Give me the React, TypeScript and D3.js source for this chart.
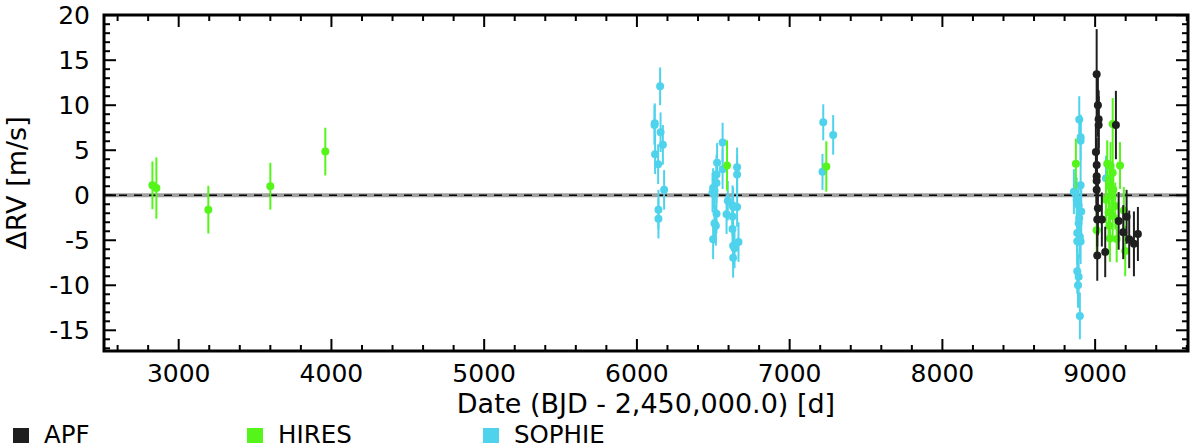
import { range, scaleLinear } from "d3";

// APF
const apfTime = [9010, 9018, 9023, 9023, 9005, 9010, 9010, 9010, 9010, 9018, 9014, 9044, 9014, 9066, 9136, 9154, 9206, 9184, 9223, 9254, 9280];
const apfRv = [13.45, 10.0, 8.45, 7.8, 4.8, 3.35, 2.1, 1.6, 0.6, -1.45, -2.7, -2.7, -6.7, -6.3, 7.8, -2.85, -2.4, -4.1, -4.9, -5.4, -4.3];
const apfErr = [5.0, 3.5, 3.2, 3.2, 3.0, 3.0, 3.0, 3.0, 3.0, 3.0, 3.0, 3.0, 2.8, 2.8, 3.8, 3.2, 3.0, 3.0, 3.2, 3.6, 3.0];

// HIRES
const hiresTime = [2828, 2854, 3194, 3600, 3960, 6590, 7240, 8874, 9010, 9115, 9079, 9101, 9115, 9093, 9119, 9106, 9163, 9071, 9088, 9115, 9132, 9093, 9097, 9141, 9197, 9188];
const hiresRv = [1.1, 0.8, -1.6, 1.0, 4.85, 3.3, 3.2, 3.5, -3.9, 7.9, 3.5, 3.3, 2.5, 1.0, 0.6, 0.0, 3.3, -0.5, -1.9, -2.3, -1.2, -3.4, -4.8, -4.85, -6.2, -1.7];
const hiresErr = [2.65, 3.4, 2.65, 2.6, 2.65, 2.8, 2.8, 2.8, 2.6, 2.9, 2.6, 2.6, 2.6, 2.6, 2.6, 2.6, 2.6, 2.6, 2.6, 2.6, 2.6, 2.6, 2.6, 2.6, 2.8, 2.6];

// SOPHIE
const sophieTime = [
  6152, 6117, 6115, 6155, 6170, 6119, 6139, 6178, 6141, 6141,
  6561, 6525, 6561, 6656, 6656, 6521, 6521, 6499, 6508, 6495, 6595, 6626, 6656, 6630, 6521, 6587, 6626, 6508, 6517, 6626, 6499, 6665, 6630, 6639, 6630,
  7220, 7285, 7215,
  8896, 8905, 8905, 8905, 8861, 8879, 8892, 8909, 8896, 8892, 8883, 8900, 8905, 8883, 8883, 8892, 8888, 8900, 9071,
];
const sophieRv = [
  12.1, 8.0, 7.8, 7.0, 5.6, 4.55, 3.45, 0.6, -1.6, -2.6,
  5.85, 3.6, 2.9, 3.1, 2.3, 2.3, 1.35, 0.8, 0.5, 0.3, -0.6, -1.1, -1.3, -1.3, -2.05, -2.1, -2.35, -3.15, -3.4, -3.75, -4.9, -5.2, -5.6, -5.9, -6.95,
  8.1, 6.7, 2.6,
  8.4, 6.45, 6.05, 1.1, 0.4, -0.5, -1.1, -1.8, -2.55, -3.1, -4.2, -4.6, -5.15, -5.1, -8.45, -9.05, -10.0, -13.4, 1.9,
];
const sophieErr = [
  2.1, 2.2, 2.2, 2.2, 2.2, 2.2, 2.2, 2.2, 2.2, 2.2,
  2.2, 2.2, 2.2, 2.2, 2.2, 2.2, 2.2, 2.2, 2.2, 2.2, 2.2, 2.2, 2.2, 2.2, 2.2, 2.2, 2.2, 2.2, 2.2, 2.2, 2.2, 2.2, 2.2, 2.2, 2.2,
  2.0, 2.2, 2.0,
  2.6, 2.5, 2.5, 2.5, 2.5, 2.5, 2.5, 2.5, 2.5, 2.5, 2.5, 2.5, 2.5, 2.5, 2.5, 2.5, 2.5, 2.6, 2.5,
];

const xTicks = [3000, 4000, 5000, 6000, 7000, 8000, 9000];
const yTicks = [-15, -10, -5, 0, 5, 10, 15, 20];

const series = [
  { name: "SOPHIE", color: "#4fd3ec", time: sophieTime, rv: sophieRv, err: sophieErr },
  { name: "HIRES", color: "#55f51c", time: hiresTime, rv: hiresRv, err: hiresErr },
  { name: "APF", color: "#1f1f1f", time: apfTime, rv: apfRv, err: apfErr },
];
const legendOrder = ["APF", "HIRES", "SOPHIE"];

export default function App() {
  const width = 1193;
  const height = 448;
  const frame = { left: 104, right: 1188, top: 15, bottom: 351 };
  const font = "'DejaVu Sans', sans-serif";

  const x = scaleLinear().domain([2511, 9608]).range([frame.left, frame.right]);
  const y = scaleLinear().domain([-17.3, 20.02]).range([frame.bottom, frame.top]);

  const xMinor = range(2600, 9601, 200).filter((t) => t % 1000 !== 0);
  const yMinor = range(-17, 21, 1).filter((t) => t % 5 !== 0);
  const legendX = [13, 247, 483];

  return (
    <div style={{ position: "fixed", left: 0, top: 0 }}>
      <svg width={width} height={height} viewBox={`0 0 ${width} ${height}`} style={{ display: "block", background: "#fff" }}>
        {/* zero line */}
        <line x1={frame.left} x2={frame.right} y1={y(0)} y2={y(0)} stroke="#a0a0a0" strokeWidth={4} />
        <line x1={frame.left} x2={frame.right} y1={y(0)} y2={y(0)} stroke="#000" strokeWidth={1.6} strokeDasharray="8 7" />

        {series.map((s) => (
          <g key={s.name}>
            {s.time.map((t, i) => (
              <line
                key={`e-${i}`}
                x1={x(t)}
                x2={x(t)}
                y1={y(s.rv[i] + s.err[i])}
                y2={y(s.rv[i] - s.err[i])}
                stroke={s.color}
                strokeWidth={2}
              />
            ))}
            {s.time.map((t, i) => (
              <circle key={`p-${i}`} cx={x(t)} cy={y(s.rv[i])} r={4} fill={s.color} />
            ))}
          </g>
        ))}

        {/* ticks */}
        <g stroke="#000" strokeWidth={2}>
          {xTicks.map((t) => (
            <g key={`xt-${t}`}>
              <line x1={x(t)} x2={x(t)} y1={frame.bottom} y2={frame.bottom - 12} />
              <line x1={x(t)} x2={x(t)} y1={frame.top} y2={frame.top + 12} />
            </g>
          ))}
          {xMinor.map((t) => (
            <g key={`xm-${t}`}>
              <line x1={x(t)} x2={x(t)} y1={frame.bottom} y2={frame.bottom - 6} />
              <line x1={x(t)} x2={x(t)} y1={frame.top} y2={frame.top + 6} />
            </g>
          ))}
          {yTicks.map((t) => (
            <g key={`yt-${t}`}>
              <line x1={frame.left} x2={frame.left + 12} y1={y(t)} y2={y(t)} />
              <line x1={frame.right} x2={frame.right - 12} y1={y(t)} y2={y(t)} />
            </g>
          ))}
          {yMinor.map((t) => (
            <g key={`ym-${t}`}>
              <line x1={frame.left} x2={frame.left + 6} y1={y(t)} y2={y(t)} />
              <line x1={frame.right} x2={frame.right - 6} y1={y(t)} y2={y(t)} />
            </g>
          ))}
        </g>

        <rect
          x={frame.left}
          y={frame.top}
          width={frame.right - frame.left}
          height={frame.bottom - frame.top}
          fill="none"
          stroke="#000"
          strokeWidth={3}
        />

        <g fontFamily={font} fill="#000">
          {xTicks.map((t) => (
            <text key={`xl-${t}`} x={x(t)} y={382} textAnchor="middle" fontSize={25}>
              {t}
            </text>
          ))}
          {yTicks.map((t) => (
            <text key={`yl-${t}`} x={90} y={y(t)} textAnchor="end" dominantBaseline="central" fontSize={25}>
              {t}
            </text>
          ))}
          <text x={(frame.left + frame.right) / 2} y={413.2} textAnchor="middle" fontSize={27}>
            Date (BJD - 2,450,000.0) [d]
          </text>
          <text
            transform={`translate(26, ${(frame.top + frame.bottom) / 2}) rotate(-90)`}
            textAnchor="middle"
            fontSize={27}
          >
            ΔRV [m/s]
          </text>
        </g>

        <g fontFamily={font} fontSize={24.5}>
          {legendOrder.map((name, i) => {
            const s = series.find((d) => d.name === name)!;
            const lx = legendX[i];
            return (
              <g key={`lg-${name}`}>
                <rect x={lx} y={428} width={16} height={15} fill={s.color} />
                <text x={lx + 31} y={442.6} fill="#000">
                  {name}
                </text>
              </g>
            );
          })}
        </g>
      </svg>
    </div>
  );
}
